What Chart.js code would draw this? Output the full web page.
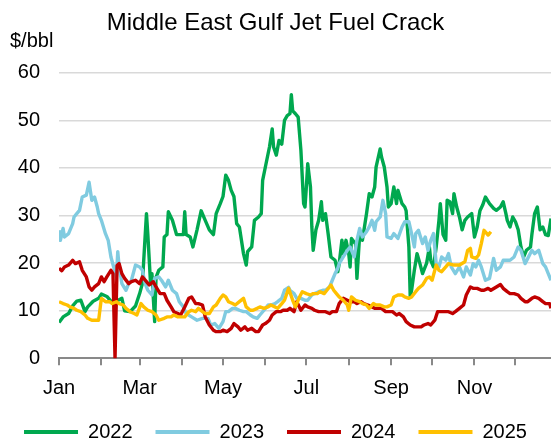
<!DOCTYPE html>
<html>
<head>
<meta charset="utf-8">
<title>Middle East Gulf Jet Fuel Crack</title>
<script src="https://cdn.jsdelivr.net/npm/chart.js@4/dist/chart.umd.min.js"></script>
<style>
  html, body { margin: 0; padding: 0; background: #fff; overflow: hidden; }
  #wrap { width: 551px; height: 441px; position: relative; }
</style>
</head>
<body>
<div id="wrap"><canvas id="crackChart"></canvas></div>
<script>
// Day-of-year axis: month starts and the labels shown under them
const monthStarts = [0, 31, 59, 90, 120, 151, 181, 212, 243, 273, 304, 334];
const monthLabels = ['Jan', '', 'Mar', '', 'May', '', 'Jul', '', 'Sep', '', 'Nov', ''];
const yTicks = [0, 10, 20, 30, 40, 50, 60];
const seriesNames = ['2022', '2023', '2024', '2025'];

// 2022 ($/bbl)
const days2022 = [0,3,7,10,13,16,19,21,25,29,31,35,38,42,46,48,52,56,59,61,63,64,65,67,68,70,71,73,76,77,
  79,80,83,86,88,91,92,93,96,98,101,104,107,110,113,115,118,120,122,124,126,128,130,132,135,137,138,141,143,146,
  148,149,151,154,156,157,159,161,163,165,167,169,170,171,173,175,177,179,180,181,182,184,185,186,188,190,192,193,195,197,
  199,202,204,205,207,208,210,212,213,214,217,218,220,222,225,227,229,231,232,235,236,238,240,241,243,245,247,248,251,253,
  254,256,257,258,260,262,264,266,269,271,272,274,276,278,279,281,283,284,286,288,289,291,293,295,297,299,302,304,306,308,
  310,312,315,318,320,323,325,327,328,330,332,334,336,338,340,342,345,346,348,350,352,354,356,358,360];
const vals2022 = [7.5,8.7,9.4,11,12,12.2,9.8,10.8,12,12.6,13.5,13,12,12,12.6,10,9.8,11,13.6,15.7,25.5,30.4,26,15.7,17.8,7.7,17,18.5,19.2,25.5,
  26,30.8,29,26,26,26,30.8,26,25.5,23.4,27,31,29,27,26,30.4,32.5,34,38.5,37.4,35.3,34,28.3,27.6,22,19.6,22.4,23.4,29,29.7,
  30.4,37.4,40.2,44.4,48.2,44.4,42.7,45.8,45,50,51,51.4,55.4,52,51.4,50.7,43.7,32.5,31.8,36,40.9,36,27.6,22.7,27,29,32.9,29,30.4,26,
  21.3,20.6,18.2,19.9,24.8,22,24.8,22,19.2,25.2,24,16.8,26,24.8,30.4,34.6,33.9,36,40.2,44,42.3,40.2,36,31.8,32.5,36,32.5,35.3,32.5,31.8,
  31,23.4,12.9,14.3,18.5,22,20,17.8,20,23.4,20.6,19.2,23.4,29,32.5,26,24.8,33.2,32.9,30.4,34.6,31.8,29.7,27,29,29.7,30.4,25.5,27.6,31,
  32.2,33.9,32.5,31.5,31.1,31.8,32.9,30.4,29,27.6,29.7,28.7,27,23.4,21.3,22.7,23.4,26,30.4,31.8,27,27.6,26,25.8,29.4];

// 2023
const days2023 = [0,1,3,4,7,10,11,13,15,17,20,22,24,26,28,29,31,34,36,38,40,42,43,44,46,49,51,53,56,59,
  61,63,65,68,70,73,75,78,80,83,86,88,91,93,97,101,105,109,111,114,117,120,122,124,127,129,132,135,137,140,
  142,145,147,150,153,155,158,160,163,165,168,169,172,174,177,180,182,185,187,190,193,195,198,200,202,204,205,208,211,213,
  216,218,220,222,225,227,229,231,232,235,237,239,240,243,245,248,251,253,256,258,260,261,263,266,268,270,272,274,276,278,
  280,283,285,287,290,293,296,298,301,303,305,307,309,312,315,318,320,323,325,328,330,333,336,338,341,343,346,348,351,354,
  356,358,360];
const vals2023 = [26.9,24.8,27.3,25.5,26.2,28.3,29.7,30.4,31.1,33.9,34.3,37,33.2,33.9,31.8,30.4,29,26.2,24.8,21.3,19.2,17.1,22.4,19.2,15.7,14.3,15.7,16.4,19.6,19.2,
  18.5,15.7,14.3,13.3,16.8,17.1,16.4,15,16.4,14.3,13.6,11.9,10.8,9.4,8.7,8,8.4,8.4,7,7.3,6.3,7.7,9.8,9.8,10.5,10.5,10.1,9.8,9.8,9.1,
  8.7,8.4,9.1,10.1,11.2,11.2,11.5,11.9,12.6,14.3,14.9,14.3,13.6,12.6,12.6,12.2,12.2,13.3,13.6,14,14.3,14.3,15,16.4,17.8,18.9,19.9,21.3,22.7,23.4,
  21.3,24.8,27.3,25.5,26.6,27.6,29,26.9,28.7,29.7,33.2,30.4,25.5,25.2,26.2,25.2,27.6,28.7,28.7,26.2,23.4,26.2,26.9,24.1,25.5,22.7,24.8,26.2,19.9,19.2,
  21.3,20.6,22,19.2,17.8,19.2,17.1,19.2,17.5,19.9,19.2,20.6,19.2,16.4,16.8,21,18.5,19.2,20.6,20.6,20.6,21.3,23.4,22.7,19.9,21,22.7,22,22.7,19.9,
  19.2,17.8,16.4];

// 2024
const days2024 = [0,2,4,7,10,12,15,17,20,22,24,26,29,31,33,35,38,39.5,41,42.5,44,46,48,51,53,56,59,61,64,66,
  69,71,74,77,79,82,84,87,89,92,95,97,100,102,105,107,110,113,115,118,120,123,126,128,131,133,136,138,141,144,
  146,149,151,154,156,159,162,164,167,169,172,174,177,180,182,185,187,190,193,195,198,200,203,205,208,211,213,216,218,221,
  223,226,229,231,234,236,239,241,244,247,249,252,254,257,260,262,265,267,270,272,275,277,280,283,285,288,290,293,296,298,
  301,303,306,309,311,314,316,320,323,325,328,330,333,336,338,341,343,346,348,351,354,356,359,360];
const vals2024 = [18.9,18.4,19.2,19.6,20.6,19.9,20.3,18.5,17.1,15,14.3,15,15.7,17.1,16.1,17.1,18.5,17.8,0,19.5,19.9,17.8,16.8,15.7,16.1,16.4,15.7,17.1,16.1,15.4,
  16.1,15,13.6,13.6,12.2,10.8,9.8,9.4,9.1,10.8,12.6,12.9,11.5,11.5,11.2,8.7,7,5.9,5.6,5.6,5.9,5.6,6.3,7.3,6.6,5.9,6.6,5.9,6.3,5.6,
  5.6,7,7.3,8,9.1,9.8,9.8,10.1,10.1,10.5,9.8,11.9,10.1,11.2,10.8,10.5,10.1,9.8,9.8,9.8,9.4,9.8,9.8,11.5,12.6,12.2,11.9,11.9,11.5,11.9,
  11.5,11.2,10.8,10.5,10.5,10.5,9.8,9.8,9.8,9.1,9.4,8.7,7.7,7,6.6,6.6,6.6,7,7.3,7,8,9.8,9.8,9.8,9.8,9.4,9.8,10.5,11.2,13.3,
  15,14.7,14.7,14.3,14.3,14.7,14.3,15,15.5,14.7,14,13.6,13.6,13.3,12.6,11.9,11.9,12.6,12.9,12.6,11.9,11.5,11.5,10.5];

// 2025 (year to date)
const days2025 = [0,3,6,8,11,13,16,19,21,24,26,29,31,34,37,39,42,44,47,49,52,55,57,60,62,65,68,71,73,77,
  79,82,84,87,89,92,95,97,100,102,105,107,110,113,115,118,120,122,124,127,129,132,135,137,140,142,145,147,150,153,
  155,158,160,163,165,168,171,173,176,178,181,184,186,189,191,194,196,199,201,203,205,208,211,212,214,217,220,222,225,227,
  230,232,235,238,240,243,245,248,251,253,256,258,261,263,266,269,271,273,276,278,280,283,285,289,293,297,299,301,302,305,
  307,309,311,314,316];
const vals2025 = [11.9,11.5,11.2,10.8,10.5,10.1,9.8,9.1,8.4,8,8,8,12.6,11.9,11.9,11.5,11.9,11.5,11.2,10.5,9.8,9.4,9.1,11.5,10.8,10.1,9.8,9.1,8,8.4,
  8.7,8.7,9.1,8.7,8.7,8.7,9.8,10.1,9.8,10.5,9.8,9.4,9.4,10.8,11.2,12.6,13.3,12.9,11.9,11.5,11.2,11.9,12.6,10.8,10.1,10.1,10.5,10.8,10.5,10.8,
  11.2,10.8,10.5,11.5,12.2,14.7,12.2,10.8,12.9,14,13.6,13.3,13.6,13.6,14,13.6,14.3,15.4,14.3,13.6,12.9,12.2,11.2,10.1,12.9,12.2,11.9,11.5,11.2,10.5,
  11.5,11.2,11.2,10.8,10.8,11.2,12.9,13.3,13.3,12.9,12.6,12.9,14,14.7,15.4,16.8,17.1,16.4,19.6,18.5,18.2,19.2,19.9,19.6,19.6,20.3,22.7,23.1,21.3,21,
  21.7,24.1,26.9,25.9,26.6];

const FONT = "'Liberation Sans', Arial, sans-serif";

function toPoints(days, vals) {
  return days.map((d, i) => ({ x: d, y: vals[i] }));
}

function makeSet(label, days, vals, color, order) {
  return {
    label,
    data: toPoints(days, vals),
    borderColor: color,
    backgroundColor: color,
    borderWidth: 3.4,
    borderJoinStyle: 'round',
    pointRadius: 0,
    tension: 0,
    order
  };
}

// "$/bbl" unit label in the top-left corner
const unitLabel = {
  id: 'unitLabel',
  afterDraw(chart) {
    const ctx = chart.ctx;
    ctx.save();
    ctx.font = '20px ' + FONT;
    ctx.fillStyle = '#000';
    ctx.textAlign = 'left';
    ctx.textBaseline = 'middle';
    ctx.fillText('$/bbl', 10, 41);
    ctx.restore();
  }
};

function renderChart() {
  Chart.defaults.font.family = FONT;
  Chart.defaults.color = '#000';
  const ctx = document.getElementById('crackChart').getContext('2d');
  new Chart(ctx, {
    type: 'line',
    data: {
      datasets: [
        makeSet(seriesNames[0], days2022, vals2022, '#00A84F', 3),
        makeSet(seriesNames[1], days2023, vals2023, '#80CBE0', 2),
        makeSet(seriesNames[2], days2024, vals2024, '#C00000', 1),
        makeSet(seriesNames[3], days2025, vals2025, '#FFC000', 0)
      ]
    },
    options: {
      responsive: true,
      maintainAspectRatio: false,
      animation: false,
      devicePixelRatio: 1,
      layout: { padding: 0 },
      plugins: {
        title: {
          display: true,
          text: 'Middle East Gulf Jet Fuel Crack',
          font: { size: 24, weight: 'normal' },
          color: '#000',
          padding: { top: 9, bottom: 35 }
        },
        legend: {
          position: 'bottom',
          maxHeight: 42,
          labels: {
            boxWidth: 54,
            boxHeight: 4,
            padding: 23,
            font: { size: 20 },
            color: '#000',
            sort: (a, b) => a.datasetIndex - b.datasetIndex,
            generateLabels: chart =>
              Chart.defaults.plugins.legend.labels.generateLabels(chart)
                .map(l => Object.assign(l, { fillStyle: l.strokeStyle, lineWidth: 0 }))
          }
        },
        tooltip: { enabled: false }
      },
      scales: {
        x: {
          type: 'linear',
          min: 0,
          max: 360,
          afterBuildTicks: axis => { axis.ticks = monthStarts.map(v => ({ value: v })); },
          afterFit: axis => { axis.height = 40.7; },
          ticks: {
            autoSkip: false,
            maxRotation: 0,
            minRotation: 0,
            padding: 11,
            font: { size: 20 },
            callback: value => monthLabels[monthStarts.indexOf(value)]
          },
          grid: { drawOnChartArea: false, drawTicks: true, tickLength: 7, color: '#898989', lineWidth: 2 },
          border: { display: true, color: '#898989', width: 2 }
        },
        y: {
          min: 0,
          max: 60,
          afterBuildTicks: axis => { axis.ticks = yTicks.map(v => ({ value: v })); },
          afterFit: axis => { axis.width = 59; },
          ticks: { padding: 19, font: { size: 20 } },
          grid: {
            drawTicks: false,
            lineWidth: 1.5,
            color: c => (c.tick && c.tick.value === 0 ? 'rgba(0,0,0,0)' : '#d9d9d9')
          },
          border: { display: false }
        }
      }
    },
    plugins: [unitLabel]
  });
}

document.addEventListener('DOMContentLoaded', renderChart);
</script>
</body>
</html>
